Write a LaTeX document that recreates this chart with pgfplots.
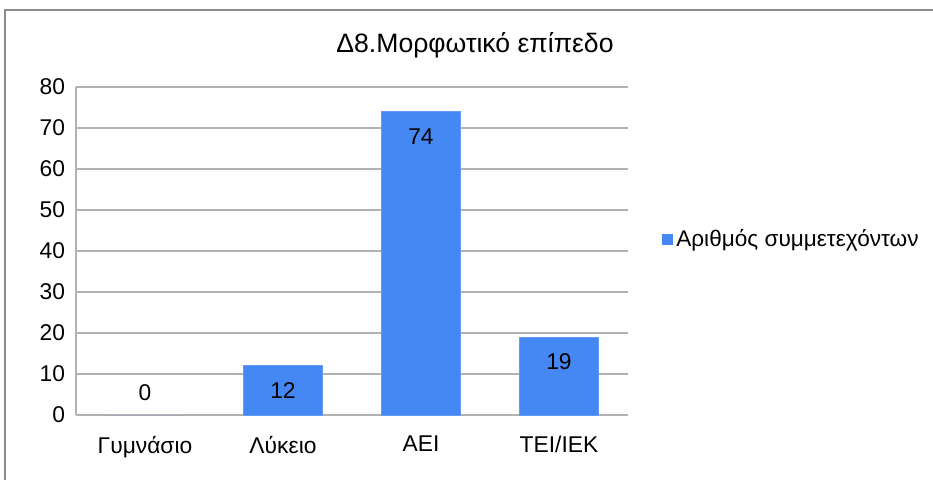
\documentclass[border=0pt]{standalone}
\usepackage{pgfplots}
\pgfplotsset{compat=1.18}
\usepackage{fontspec}
\setmainfont{Liberation Sans}
\definecolor{barblue}{RGB}{70,136,243}
\definecolor{gridgray}{RGB}{178,178,178}
\definecolor{framegray}{RGB}{140,140,140}
\begin{document}
\begin{tikzpicture}
% 1px = 0.5pt, origin at the lower left corner of the plot area
\useasboundingbox (-38pt,-32pt) rectangle (428.5pt,207.5pt);
\draw[framegray, line width=0.6pt] (-35.5pt,-40pt) -- (-35.5pt,202.5pt) -- (428.5pt,202.5pt);
\begin{axis}[
  at={(0,0)}, anchor=south west,
  scale only axis,
  width=276pt, height=164pt,
  ybar, bar width=39.5pt, bar shift=0pt,
  xmin=-0.5, xmax=3.5,
  ymin=0, ymax=80,
  ytick={0,10,...,80},
  xtick={0,1,2,3},
  xticklabels={Γυμνάσιο, Λύκειο, ΑΕΙ, ΤΕΙ/ΙΕΚ},
  major tick length=0pt,
  ymajorgrids,
  grid style={gridgray, line width=0.6pt},
  axis x line*=bottom,
  axis y line*=left,
  axis line style={gridgray, line width=0.6pt, -},
  tick label style={font=\fontsize{11.4}{13}\selectfont},
  /pgf/number format/assume math mode=true,
  yticklabel style={xshift=-2pt},
  xticklabel style={yshift=-7pt},
  nodes near coords,
  every node near coord/.append style={font=\fontsize{11.4}{13}\selectfont, anchor=center, yshift=-12.5pt},
  legend style={draw=none, at={(1.06,0.535)}, anchor=west, font=\fontsize{11.3}{13}\selectfont,
    inner sep=0pt, legend cell align=left},
  legend image code/.code={\fill[barblue] (0pt,-2.5pt) rectangle (5pt,2.5pt);},
  clip=false,
]
\addplot[fill=barblue, draw=barblue!85!white] coordinates {(1,12) (2,74) (3,19)};
\addlegendentry{Αριθμός συμμετεχόντων}
\addplot[fill=barblue, draw=none, forget plot,
  every node near coord/.append style={yshift=23.5pt}] coordinates {(0,0)};
\end{axis}
\node[font=\fontsize{13.3}{15}\selectfont] at (199.5pt,185pt) {Δ8.Μορφωτικό επίπεδο};
\end{tikzpicture}
\end{document}
